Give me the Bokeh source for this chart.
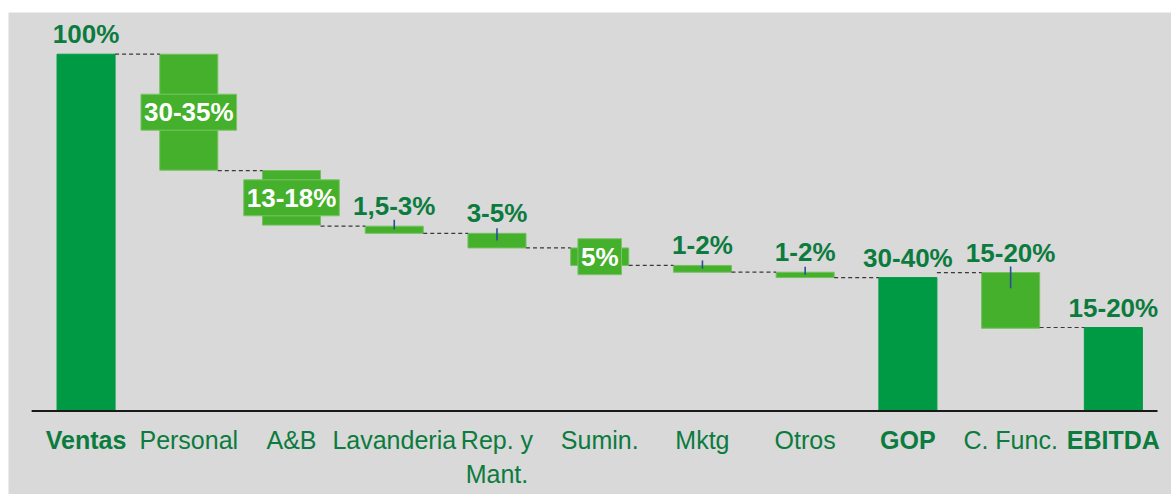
import math
from bokeh.plotting import figure
from bokeh.models import Range1d, ColumnDataSource
from bokeh.core.properties import value
from bokeh.embed import file_html
from bokeh.resources import INLINE

# ---- data (percent of sales) ----
categories = ["Ventas", "Personal", "A&B", "Lavanderia", "Rep. y\nMant.", "Sumin.",
              "Mktg", "Otros", "GOP", "C. Func.", "EBITDA"]
bar_top = [100.0, 100.0, 67.4, 51.8, 49.8, 45.7, 40.8, 38.9, 37.4, 38.8, 23.4]
bar_bottom = [0.0, 67.5, 52.1, 49.8, 45.7, 40.8, 38.9, 37.4, 0.0, 23.2, 0.0]
is_total = [True, False, False, False, False, False, False, False, True, False, True]
value_labels = ["100%", "30-35%", "13-18%", "1,5-3%", "3-5%", "5%", "1-2%", "1-2%",
                "30-40%", "15-20%", "15-20%"]
inside_labels = ["Personal", "A&B", "Sumin."]
err_low = [None, None, None, 50.9, 47.8, None, 39.9, 38.2, None, 34.4, None]
err_high = [None, None, None, 53.6, 51.2, None, 42.2, 40.4, None, 40.5, None]

# ---- styles ----
DARK = "#009A44"
LIGHT = "#45B02B"
TXT = "#0B7B3E"
BG = "#D9D9D9"
FONT = value("Liberation Sans")
W = 0.565

n = len(categories)
xs = list(range(n))

p = figure(width=1171, height=494, output_backend="svg", toolbar_location=None,
           x_range=Range1d(-0.755, 10.566), y_range=Range1d(-23.40, 111.69),
           x_axis_location=None, y_axis_location=None,
           min_border_left=8, min_border_top=12, min_border_right=0, min_border_bottom=0)
p.border_fill_color = "white"
p.background_fill_color = BG
p.outline_line_color = None
p.grid.visible = False

# bars
src = ColumnDataSource(dict(
    x=xs, top=bar_top, bottom=bar_bottom,
    color=[DARK if t else LIGHT for t in is_total],
    line=[DARK if t else "#74C060" for t in is_total],
))
p.vbar(x="x", top="top", bottom="bottom", width=W, fill_color="color",
       line_color="line", line_width=1, source=src)

# connectors
p.segment(x0=[i + W / 2 for i in range(n - 1)], x1=[i + 1 - W / 2 for i in range(n - 1)],
          y0=bar_top[1:], y1=bar_top[1:], line_color="#3A3A3A", line_width=1.2,
          line_dash="4 3")

# baseline axis
p.segment(x0=[-0.53], x1=[n - 1 + 0.43], y0=[0], y1=[0], line_color="#1A1A1A", line_width=2)

# error bars
ex = [i for i in xs if err_low[i] is not None]
p.segment(x0=ex, x1=ex, y0=[err_low[i] for i in ex], y1=[err_high[i] for i in ex],
          line_color="#2B4C9B", line_width=1.6)

# value labels above bars
above = [i for i in xs if categories[i] not in inside_labels]
p.text(x=above, y=[bar_top[i] for i in above], text=[value_labels[i] for i in above],
       text_align="center", text_baseline="alphabetic", y_offset=-20,
       text_font=FONT, text_font_style="bold", text_font_size="26px", text_color=TXT)

# value labels inside boxes
inside = [i for i in xs if categories[i] in inside_labels]
p.text(x=inside, y=[(bar_top[i] + bar_bottom[i]) / 2 for i in inside],
       text=[value_labels[i] for i in inside],
       text_align="center", text_baseline="middle",
       text_font=FONT, text_font_style="bold", text_font_size="26px", text_color="white",
       background_fill_color=LIGHT, border_line_color="#7CC46A", border_line_width=1,
       padding=3)

# category labels
for bold in (True, False):
    idx = [i for i in xs if is_total[i] == bold]
    p.text(x=idx, y=[0] * len(idx), text=[categories[i] for i in idx],
           text_align="center", text_baseline="top", y_offset=15,
           text_font=FONT, text_font_style="bold" if bold else "normal",
           text_font_size="25px", text_color=TXT, text_line_height=1.2)

open("out.html", "w").write(file_html(p, INLINE))
